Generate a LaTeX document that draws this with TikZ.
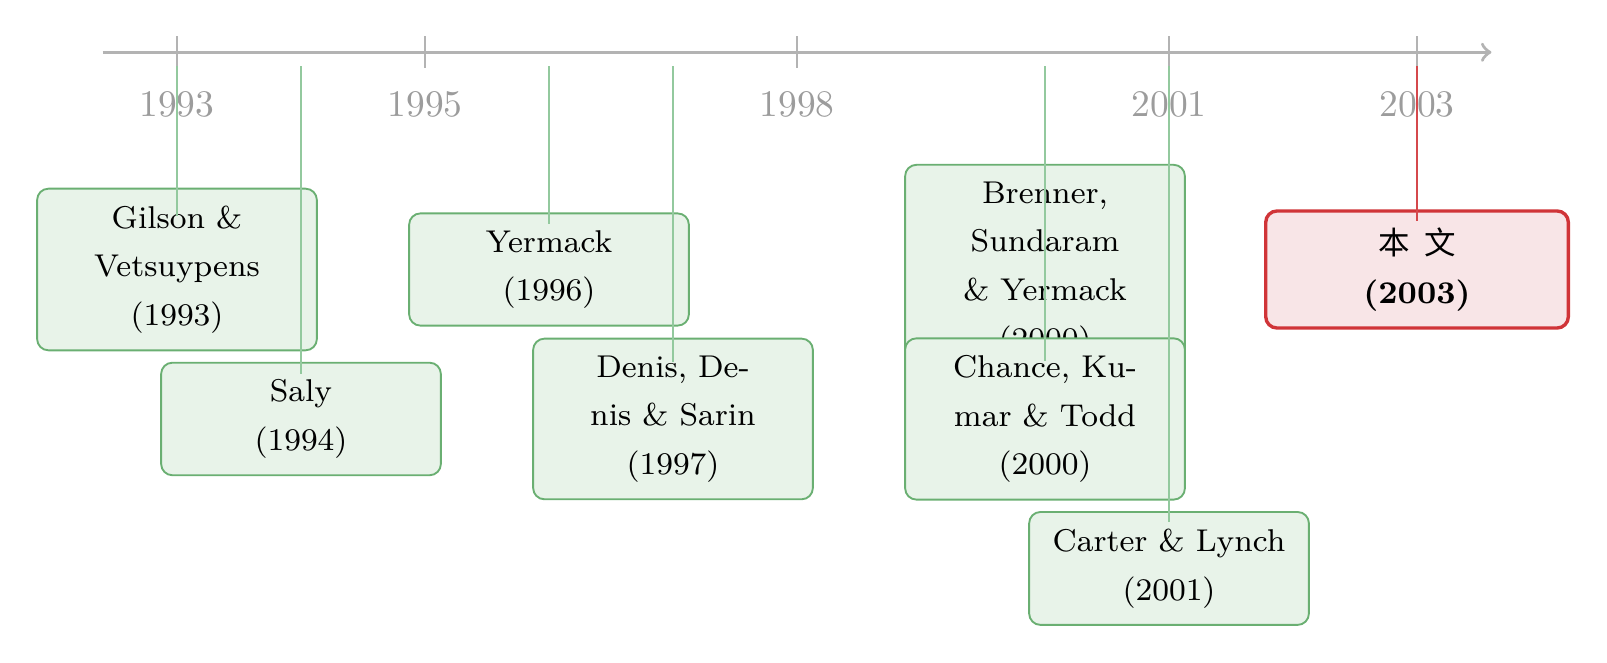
\documentclass[tikz,border=0pt]{standalone}
\usepackage{fontspec}
\newfontfamily\cjkfont{Noto Sans CJK SC}
\usepackage{xcolor}
\usepackage{tikz}

\definecolor{axisgray}{HTML}{B3B3B3}
\definecolor{yeargray}{HTML}{9C9C9C}
\definecolor{paperline}{HTML}{6AAF72}
\definecolor{paperfill}{HTML}{E8F3E9}
\definecolor{pingreen}{HTML}{93C99E}
\definecolor{oursred}{HTML}{D03438}
\definecolor{oursfill}{HTML}{F8E5E7}

\tikzset{
  year/.style={text=yeargray, font=\normalsize},
  tick/.style={axisgray, line width=0.4pt},
  paper/.style={draw=paperline, fill=paperfill, rounded corners=3pt, line width=0.5pt,
    minimum width=74.6pt, align=center, inner sep=4.5pt, font=\fontsize{8.4}{13}\selectfont},
  ours/.style={paper, draw=oursred, fill=oursfill, line width=0.9pt, minimum width=80.7pt},
  pin/.style={pingreen, line width=0.4pt},
}

\begin{document}
\begin{tikzpicture}[x=1.1623cm, y=1cm]
    \useasboundingbox (-1.4274,0.490) rectangle (11.532,-5.715);
    % the time axis
    \coordinate (axisstart) at (-0.6,0);
    \coordinate (axisend) at (10.6,0);
    \coordinate (pintop) at (0,-0.13);
    \draw[->, axisgray, line width=0.9pt] (axisstart) -- (axisend);
    \draw[tick] (0,0.15) -- (0,-0.15);
    \draw[tick] (2,0.15) -- (2,-0.15);
    \draw[tick] (5,0.15) -- (5,-0.15);
    \draw[tick] (8,0.15) -- (8,-0.15);
    \draw[tick] (10,0.15) -- (10,-0.15);
    \node[year] (y1993) at (0,-0.485) {1993};
    \node[year] (y1995) at (2,-0.485) {1995};
    \node[year] (y1998) at (5,-0.485) {1998};
    \node[year] (y2001) at (8,-0.485) {2001};
    \node[year] (y2003) at (10,-0.485) {2003};
    % the papers
    \node[paper] (gilson) at (0,-2.036) {Gilson \&\\Vetsuypens\\(1993)};
    \node[paper] (saly) at (1,-3.437) {Saly\\(1994)};
    \node[paper] (yermack) at (3,-2.036) {Yermack\\(1996)};
    \node[paper] (denis) at (4,-3.437) {Denis, De-\\nis \& Sarin\\(1997)};
    \node[paper] (brenner) at (7,-2.036) {Brenner,\\Sundaram\\\& Yermack\\(2000)};
    \node[paper] (chance) at (7,-3.437) {Chance, Ku-\\mar \& Todd\\(2000)};
    \node[paper] (carter) at (8,-4.838) {Carter \& Lynch\\(2001)};
    \node[ours] (ours) at (10,-2.036) {{\cjkfont 本\hspace{0.45em}文}\\\textbf{(2003)}};
    % pins from the axis down to the papers
    \draw[pin] (gilson.north |- pintop) -- ([yshift=-0.262cm]gilson.north);
    \draw[pin] (saly.north |- pintop) -- ([yshift=-0.112cm]saly.north);
    \draw[pin] (yermack.north |- pintop) -- ([yshift=-0.112cm]yermack.north);
    \draw[pin] (denis.north |- pintop) -- ([yshift=-0.225cm]denis.north);
    \draw[pin] (chance.north |- pintop) -- ([yshift=-0.225cm]chance.north);
    \draw[pin] (carter.north |- pintop) -- ([yshift=-0.100cm]carter.north);
    \draw[pin, oursred!90] (ours.north |- pintop) -- ([yshift=-0.112cm]ours.north);
\end{tikzpicture}
\end{document}
